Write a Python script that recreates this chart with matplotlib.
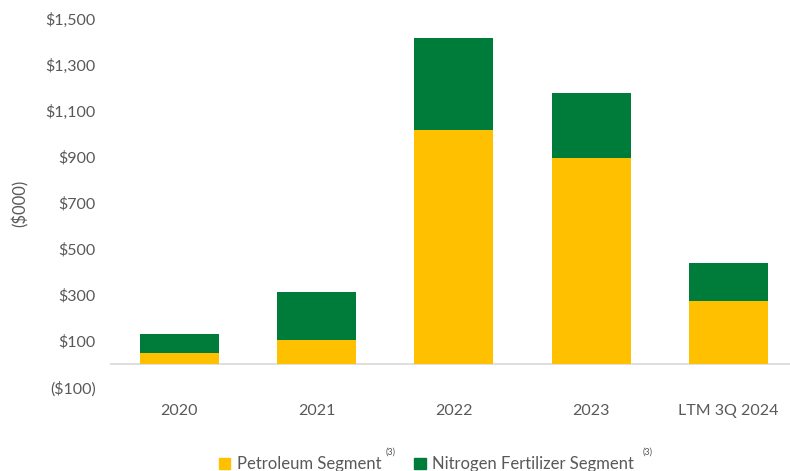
import matplotlib.pyplot as plt
from matplotlib.patches import Patch

years = ['2020', '2021', '2022', '2023', 'LTM 3Q 2024']
petroleum = [50, 103, 1015, 897, 275]
nitrogen = [80, 211, 401, 279, 165]
yticks = [-100, 100, 300, 500, 700, 900, 1100, 1300, 1500]
ytick_labels = ['($100)', '$100', '$300', '$500', '$700', '$900', '$1,100', '$1,300', '$1,500']

yellow = '#FFC000'
green = '#007C3A'
grey = '#595959'

plt.rcParams['font.family'] = ['Lato', 'DejaVu Sans']

fig = plt.figure(figsize=(7.9, 4.71), dpi=100)
ax = fig.add_axes([0.139, 0.178, 0.861, 0.782])

x = list(range(len(years)))
ax.bar(x, petroleum, width=0.576, color=yellow, label='Petroleum Segment')
ax.bar(x, nitrogen, width=0.576, bottom=petroleum, color=green, label='Nitrogen Fertilizer Segment')
ax.axhline(0, color='#d9d9d9', lw=1.2, zorder=0)

ax.set_xlim(-0.506, 4.448)
ax.set_ylim(-100, 1500)
ax.set_yticks(yticks)
ax.set_yticklabels(ytick_labels)
ax.set_xticks(x)
ax.set_xticklabels(years)
ax.tick_params(axis='both', length=0, colors=grey, labelsize=11.5)
ax.tick_params(axis='y', pad=10)
ax.tick_params(axis='x', pad=12)
for s in ax.spines.values():
    s.set_visible(False)
ax.set_ylabel('($000)', color=grey, fontsize=12, labelpad=12)

handles = [Patch(color=yellow), Patch(color=green)]
fig.legend(handles, ['Petroleum Segment', 'Nitrogen Fertilizer Segment'],
           loc='lower center', bbox_to_anchor=(0.54, -0.035), ncol=2, frameon=False,
           fontsize=12, labelcolor=grey, handlelength=0.7, handleheight=0.7,
           handletextpad=0.4, columnspacing=1.95)
fig.text(391 / 790, 1 - 452 / 471, '(3)', color=grey, fontsize=6.5, ha='center', va='center')
fig.text(648 / 790, 1 - 452 / 471, '(3)', color=grey, fontsize=6.5, ha='center', va='center')

fig.savefig('out.png', dpi=100)
